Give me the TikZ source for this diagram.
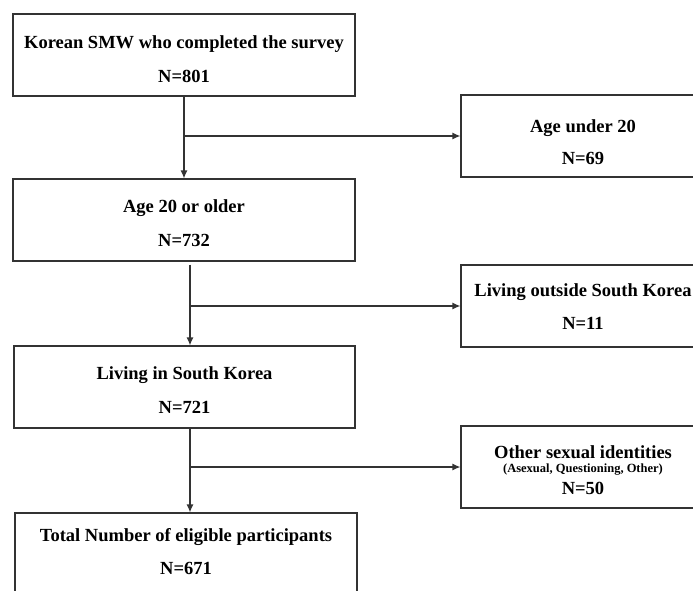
\documentclass[tikz,border=0pt]{standalone}
\usepackage{fontspec}
\setmainfont{Liberation Serif}
\usetikzlibrary{arrows.meta}
\definecolor{edge}{HTML}{333333}
\tikzset{
  box/.style={draw=edge, line width=1.2pt, rectangle, inner sep=0pt},
  big/.style={font=\bfseries\fontsize{18.5}{21}\selectfont, inner sep=0pt, anchor=center},
  small/.style={font=\bfseries\fontsize{12.5}{14}\selectfont, inner sep=0pt, anchor=center},
  arr/.style={draw=edge, line width=1.2pt, -{Latex[length=8pt,width=7pt]}},
}
\begin{document}
\begin{tikzpicture}[x=1pt,y=-1pt]
\useasboundingbox (0,0) rectangle (693,590);
\clip (0,0) rectangle (693,590);
% left boxes
\node[box, minimum width=342pt, minimum height=82pt] (b1) at (184,55) {};
\node[big] (t1a) at (184,44) {Korean SMW who completed the survey};
\node[big] (t1b) at (184,76) {N=801};
\node[box, minimum width=342pt, minimum height=82pt] (b2) at (184,220) {};
\node[big] (t2a) at (184,208) {Age 20 or older};
\node[big] (t2b) at (184,240) {N=732};
\node[box, minimum width=341pt, minimum height=82pt] (b3) at (184.5,387) {};
\node[big] (t3a) at (184.5,375) {Living in South Korea};
\node[big] (t3b) at (184.5,407) {N=721};
\node[box, minimum width=342pt, minimum height=84pt] (b4) at (186,555) {};
\node[big] (t4a) at (186,537) {Total Number of eligible participants};
\node[big] (t4b) at (186,568) {N=671};
% right boxes
\node[box, minimum width=244pt, minimum height=82pt] (r1) at (583,136) {};
\node[big] (u1a) at (583,128) {Age under 20};
\node[big] (u1b) at (583,158) {N=69};
\node[box, minimum width=244pt, minimum height=82pt] (r2) at (583,306) {};
\node[big] (u2a) at (583,292) {Living outside South Korea};
\node[big] (u2b) at (583,323) {N=11};
\node[box, minimum width=244pt, minimum height=82pt] (r3) at (583,467) {};
\node[big] (u3a) at (583,452) {Other sexual identities};
\node[small] (u3b) at (583,470) {(Asexual, Questioning, Other)};
\node[big] (u3c) at (583,488) {N=50};
% connectors
\coordinate (c2) at ([xshift=6pt,yshift=-3pt]b2.south);
\coordinate (c3) at ([xshift=5.5pt]b3.south);
\draw[arr] (b1.south) -- (b2.north);
\draw[arr] (c2) -- (c2 |- b3.north);
\draw[arr] (c3) -- (c3 |- b4.north);
\draw[arr] (b1.south |- r1.west) -- (r1.west);
\draw[arr] (c2 |- r2.west) -- (r2.west);
\draw[arr] (c3 |- r3.west) -- (r3.west);
\end{tikzpicture}
\end{document}
